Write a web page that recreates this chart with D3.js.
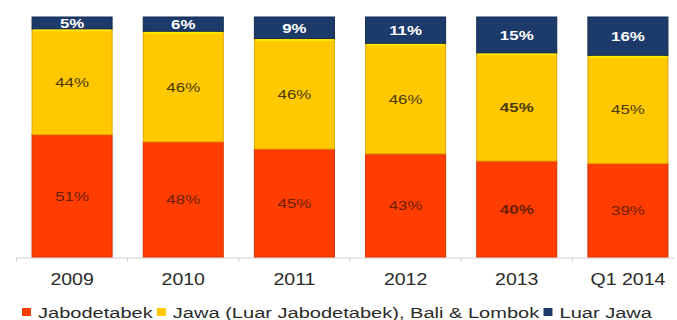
<!DOCTYPE html>
<html>
<head>
<meta charset="utf-8">
<script src="https://cdn.jsdelivr.net/npm/d3@7"></script>
<style>
  body { margin: 0; background: #fff; }
  text { font-family: "Liberation Sans", Arial, sans-serif; }
</style>
</head>
<body>
<div id="wrapper"></div>
<script>
var categories = ["2009", "2010", "2011", "2012", "2013", "Q1 2014"];
var jabodetabek = [51, 48, 45, 43, 40, 39];
var jawa = [44, 46, 46, 46, 45, 45];
var luarJawa = [5, 6, 9, 11, 15, 16];
var seriesNames = ["Jabodetabek", "Jawa (Luar Jabodetabek), Bali & Lombok", "Luar Jawa"];
var boldCategory = "2013";

function draw(){
    var width = 677;
    var height = 320;
    var stretch = 1.22; // the original picture is stretched sideways
    var svg = d3.select("#wrapper").append("svg")
        .attr("width", width)
        .attr("height", height)

    var colors = ["#ff3d00", "#ffc800", "#1c3a6a"];
    var edges = ["#d93200", "#e0a800", "#132a50"];
    var labelColors = ["#6a2000", "#4a3a00", "#ffffff"];

    var rows = categories.map(function(c, i){
        return {cat: c, s0: jabodetabek[i], s1: jawa[i], s2: luarJawa[i]};
    });
    var stack = d3.stack().keys(["s0", "s1", "s2"])(rows);

    var x = d3.scaleBand()
        .domain(categories)
        .range([16.5, 683.5])
        .paddingInner(0.28)
        .paddingOuter(0.14);
    var y = d3.scaleLinear()
        .domain([0, 100])
        .range([257, 17]);

    // axis baseline with small ticks between categories
    var axis = svg.append("g")
        .attr("transform", "translate(0,258)")
        .call(d3.axisBottom(x).tickSize(0).tickPadding(16))
    axis.select(".domain").attr("stroke", "#d0d0d0").attr("d", "M16,0H674")
    axis.selectAll("text")
        .attr("fill", "#2a2a2a")
        .attr("transform", "scale(" + stretch + ",1)")
        .style("font-size", "16px")
    var sep = categories.slice(0, -1).map(function(c){ return x(c) + x.bandwidth() + x.step()*x.paddingInner()/2; });
    sep.unshift(x(categories[0]) - x.step()*x.paddingInner()/2);
    svg.selectAll(".sep").data(sep).enter().append("line")
        .attr("x1", function(d){ return d; })
        .attr("x2", function(d){ return d; })
        .attr("y1", 258).attr("y2", 262)
        .attr("stroke", "#d0d0d0")

    var layers = svg.selectAll(".layer").data(stack).enter().append("g")
    layers.selectAll("rect").data(function(d, i){ return d.map(function(p){ return {p: p, i: i}; }); })
        .enter().append("rect")
        .attr("x", function(d){ return x(d.p.data.cat); })
        .attr("y", function(d){ return y(d.p[1]); })
        .attr("width", x.bandwidth())
        .attr("height", function(d){ return y(d.p[0]) - y(d.p[1]); })
        .attr("fill", function(d){ return colors[d.i]; })
        .attr("stroke", function(d){ return edges[d.i]; })
        .attr("stroke-width", 1)

    // bright top edge on yellow segments
    svg.selectAll(".hl").data(stack[1]).enter().append("rect")
        .attr("x", function(d){ return x(d.data.cat) + 1; })
        .attr("y", function(d){ return y(d[1]) + 0.5; })
        .attr("width", x.bandwidth() - 2)
        .attr("height", 2)
        .attr("fill", "#ffe600")

    layers.selectAll("text").data(function(d, i){ return d.map(function(p){ return {p: p, i: i}; }); })
        .enter().append("text")
        .attr("transform", function(d){
            var cx = x(d.p.data.cat) + x.bandwidth()/2;
            var cy = (y(d.p[0]) + y(d.p[1]))/2 + 5;
            return "translate(" + cx + "," + cy + ") scale(1.3,1)";
        })
        .attr("text-anchor", "middle")
        .attr("fill", function(d){ return labelColors[d.i]; })
        .style("font-size", "13px")
        .style("font-weight", function(d){ return (d.i == 2 || d.p.data.cat == boldCategory) ? "bold" : "normal"; })
        .text(function(d){ return (d.p[1] - d.p[0]) + "%"; })

    // legend, stretched to the width it has in the original
    var legend = svg.append("g").attr("transform", "translate(22,313)")
    var items = seriesNames.map(function(n, i){
        var g = legend.append("g")
        var t = g.append("text")
            .attr("y", 5)
            .attr("fill", "#2a2a2a")
            .style("font-size", "15.5px")
            .text(n)
        return {g: g, w: t.node().getComputedTextLength(), i: i};
    });
    var total = d3.sum(items, function(d){ return d.w; });
    var k = (630 - items.length*16 - 2*4) / total;
    var lx = 0;
    items.forEach(function(d){
        legend.append("rect")
            .attr("x", lx).attr("y", -5)
            .attr("width", 9).attr("height", 8)
            .attr("fill", colors[d.i])
        d.g.attr("transform", "translate(" + (lx + 16) + ",0) scale(" + k + ",1)")
        lx += 16 + d.w*k + 4;
    });
}
draw()
</script>
</body>
</html>
